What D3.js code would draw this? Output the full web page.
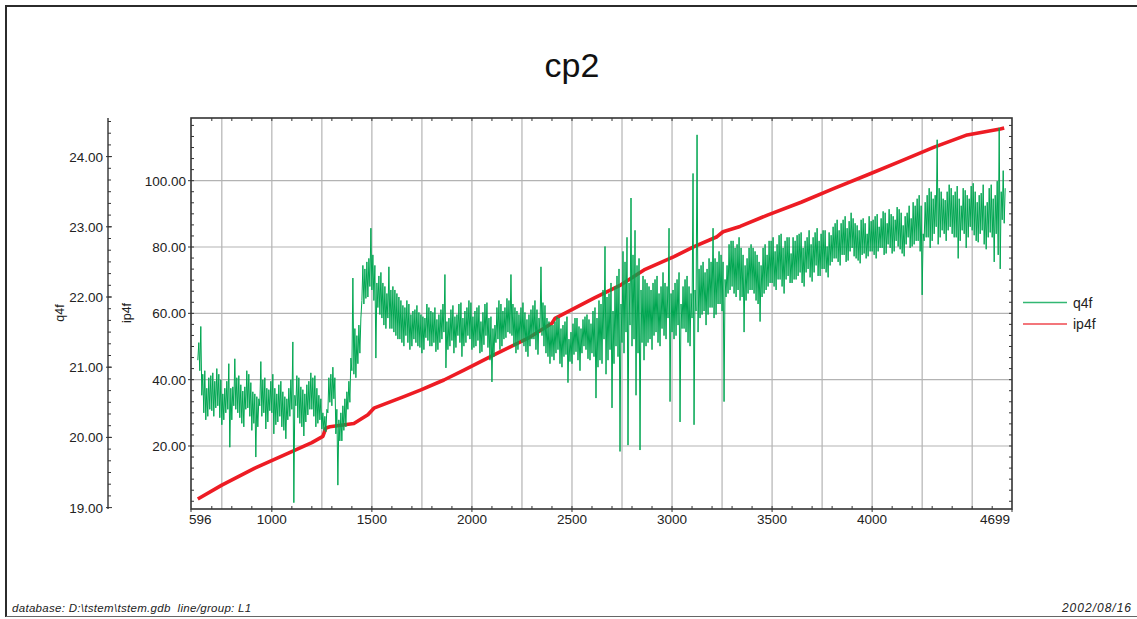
<!DOCTYPE html>
<html>
<head>
<meta charset="utf-8">
<script src="https://cdn.jsdelivr.net/npm/d3@7/dist/d3.min.js"></script>
<style>
  html, body { margin: 0; padding: 0; background: #fff; }
  svg { display: block; font-family: "Liberation Sans", Arial, sans-serif; }
  .footer { white-space: pre; }
</style>
</head>
<body>
<svg id="chart" width="1137" height="619"></svg>
<script>
// Profile cp2, line L1. q4f is stored decimated: two readings per 10-fid bin
// (q4fA, q4fB); each bin is drawn as its low then its high reading.
const q4fFidStart = 630;
const q4fFidStep = 10;
const q4fA = [
  // 630 - 790
  21.35, 21.58, 20.60, 20.95, 20.25, 20.85, 20.40, 20.92, 20.30, 20.98, 20.45, 20.82, 20.18, 20.70, 20.35, 21.05, 19.86,
  // 800 - 990
  20.72, 21.12, 20.40, 20.88, 20.28, 20.66, 20.15, 20.95, 20.42, 20.78, 20.10, 20.62, 19.72, 20.55, 21.08, 20.30, 20.85, 20.12, 20.68, 20.38,
  // 1000 - 1190
  20.90, 20.05, 20.62, 20.22, 20.80, 20.15, 20.58, 19.98, 20.70, 20.30, 21.36, 19.07, 20.45, 20.85, 20.20, 20.68, 20.02, 20.75, 20.32, 20.92,
  // 1200 - 1390
  20.40, 20.88, 20.15, 20.60, 20.25, 20.12, 20.30, 20.08, 20.85, 20.50, 21.00, 20.55, 20.05, 19.32, 20.35, 19.95, 20.55, 20.15, 20.80, 20.50,
  // 1400 - 1590
  22.27, 20.90, 21.45, 21.05, 21.70, 21.95, 22.40, 21.98, 22.55, 22.98, 22.10, 22.45, 21.13, 22.30, 21.75, 22.20, 21.60, 22.05, 22.43, 21.55,
  // 1600 - 1790
  22.15, 21.50, 22.05, 21.40, 21.95, 21.35, 21.85, 21.45, 21.90, 21.25, 21.80, 21.40, 21.88, 21.30, 21.75, 21.20, 21.70, 21.42, 21.85, 21.30,
  // 1800 - 1990
  21.78, 21.35, 21.68, 21.25, 21.82, 21.40, 22.32, 20.99, 21.70, 21.30, 21.88, 21.20, 21.75, 21.45, 21.92, 21.15, 21.80, 21.35, 21.95, 21.40,
  // 2000 - 2190
  21.72, 21.28, 21.85, 21.38, 21.65, 21.22, 21.90, 21.45, 21.70, 21.10, 20.79, 21.60, 21.35, 21.95, 21.25, 21.80, 21.40, 21.98, 21.50, 22.32,
  // 2200 - 2390
  21.45, 21.85, 21.20, 21.75, 21.38, 21.92, 21.30, 21.68, 21.15, 21.82, 21.40, 21.95, 21.25, 21.70, 22.43, 21.45, 21.88, 21.20, 21.65, 21.05,
  // 2400 - 2590
  21.60, 21.10, 21.72, 21.25, 21.55, 21.00, 21.65, 21.18, 20.78, 21.50, 21.05, 21.70, 21.22, 21.58, 20.95, 21.68, 21.30, 21.75, 21.12, 21.62,
  // 2600 - 2790
  21.20, 21.85, 20.56, 21.95, 21.10, 22.10, 22.72, 20.90, 22.05, 21.25, 20.42, 22.15, 21.30, 22.40, 19.80, 22.65, 21.20, 22.85, 19.89, 23.41,
  // 2800 - 2990
  21.30, 22.95, 20.60, 22.55, 19.82, 22.30, 21.10, 22.20, 21.35, 22.10, 21.25, 22.25, 21.50, 22.05, 21.30, 22.35, 21.45, 22.15, 22.98, 20.51,
  // 3000 - 3190
  22.10, 21.40, 22.25, 21.60, 20.22, 22.15, 21.55, 22.30, 21.35, 22.05, 23.76, 20.18, 24.31, 21.50, 22.45, 21.75, 22.35, 21.60, 22.55, 21.85,
  // 3200 - 3390
  22.98, 21.70, 22.50, 21.90, 22.60, 21.80, 20.51, 22.45, 22.05, 22.80, 22.15, 22.70, 22.00, 22.85, 21.95, 22.60, 21.50, 22.55, 22.05, 22.75,
  // 3400 - 3590
  22.10, 22.65, 21.95, 22.50, 21.65, 22.70, 22.05, 22.60, 22.15, 22.80, 22.20, 22.65, 22.10, 22.88, 22.25, 22.70, 22.05, 22.85, 22.30, 22.62,
  // 3600 - 3790
  22.20, 22.80, 22.25, 22.90, 22.35, 22.70, 22.15, 22.85, 22.40, 22.75, 22.22, 22.92, 22.45, 22.80, 22.30, 22.95, 22.40, 22.72, 22.28, 22.88,
  // 3800 - 3990
  22.50, 23.05, 22.55, 22.95, 22.45, 23.10, 22.60, 22.98, 22.52, 23.20, 22.70, 23.05, 22.55, 22.95, 22.48, 23.12, 22.62, 22.90, 22.58, 23.08,
  // 4000 - 4190
  22.65, 23.15, 22.55, 23.00, 22.70, 23.22, 22.60, 23.05, 22.75, 23.18, 22.62, 23.10, 22.80, 23.25, 22.68, 23.02, 22.58, 23.20, 22.85, 23.12,
  // 4200 - 4390
  22.72, 23.30, 22.80, 23.45, 22.65, 22.03, 23.35, 22.85, 23.55, 22.70, 23.40, 22.90, 24.24, 22.75, 23.50, 22.95, 23.38, 22.80, 23.60, 23.00,
  // 4400 - 4590
  23.45, 22.85, 23.58, 22.55, 23.30, 22.95, 23.52, 22.70, 23.40, 23.00, 23.62, 22.88, 23.35, 22.78, 23.48, 22.95, 23.30, 22.68, 23.55, 22.92,
  // 4600 - 4660
  23.40, 22.50, 23.65, 24.41, 22.40, 23.80, 23.05
];
const q4fB = [
  // 630 - 790
  21.10, 20.95, 20.90, 20.35, 20.70, 20.30, 20.88, 20.38, 20.80, 20.42, 20.90, 20.28, 20.62, 20.25, 20.80, 20.40, 20.70,
  // 800 - 990
  20.25, 20.45, 20.85, 20.35, 20.75, 20.20, 20.72, 20.40, 20.90, 20.30, 20.65, 20.20, 20.58, 20.15, 20.45, 20.82, 20.35, 20.70, 20.22, 20.80,
  // 1000 - 1190
  20.35, 20.70, 20.18, 20.75, 20.30, 20.65, 20.10, 20.55, 20.25, 20.82, 20.40, 20.60, 20.88, 20.28, 20.72, 20.15, 20.62, 20.22, 20.80, 20.40,
  // 1200 - 1390
  20.85, 20.30, 20.70, 20.20, 20.55, 20.35, 20.10, 20.40, 20.35, 20.90, 20.45, 20.85, 20.40, 20.25, 19.95, 20.45, 20.10, 20.65, 20.40, 21.13,
  // 1400 - 1590
  20.95, 21.55, 20.85, 21.60, 21.20, 22.45, 21.90, 22.50, 22.00, 22.15, 22.60, 21.95, 22.20, 21.85, 22.35, 21.70, 22.15, 21.55, 21.70, 22.10,
  // 1600 - 1790
  21.55, 22.10, 21.45, 22.00, 21.40, 21.88, 21.30, 21.95, 21.35, 21.75, 21.30, 21.82, 21.35, 21.78, 21.28, 21.72, 21.25, 21.90, 21.38, 21.80,
  // 1800 - 1990
  21.30, 21.85, 21.22, 21.75, 21.35, 21.90, 21.50, 21.65, 21.25, 21.82, 21.38, 21.72, 21.28, 21.90, 21.35, 21.70, 21.30, 21.85, 21.45, 21.92,
  // 2000 - 2190
  21.25, 21.80, 21.30, 21.88, 21.20, 21.78, 21.32, 21.92, 21.28, 21.72, 21.55, 21.15, 21.85, 21.40, 21.90, 21.30, 21.85, 21.42, 21.95, 21.48,
  // 2200 - 2390
  21.90, 21.30, 21.80, 21.25, 21.85, 21.35, 21.78, 21.22, 21.75, 21.30, 21.88, 21.40, 21.82, 21.18, 21.50, 21.92, 21.30, 21.70, 21.15, 21.60,
  // 2400 - 2590
  21.15, 21.65, 21.20, 21.70, 21.05, 21.60, 21.15, 21.72, 21.40, 21.08, 21.62, 21.18, 21.70, 21.10, 21.55, 21.20, 21.72, 21.25, 21.68, 21.10,
  // 2600 - 2790
  21.80, 21.15, 21.70, 21.00, 21.90, 21.05, 21.40, 22.00, 21.10, 22.20, 21.80, 21.05, 22.30, 21.15, 21.90, 21.35, 22.50, 21.50, 22.20, 21.60,
  // 2800 - 2990
  22.60, 21.40, 22.45, 21.20, 22.10, 21.35, 22.25, 21.30, 22.15, 21.40, 22.20, 21.45, 22.30, 21.35, 22.15, 21.55, 22.20, 21.40, 21.70, 22.05,
  // 3000 - 3190
  21.50, 22.20, 21.45, 22.35, 21.90, 21.55, 22.25, 21.50, 22.15, 21.30, 21.70, 22.10, 21.80, 22.40, 21.70, 22.50, 21.80, 22.40, 21.75, 22.50,
  // 3200 - 3390
  21.85, 22.55, 21.75, 22.65, 21.90, 22.50, 22.25, 22.00, 22.75, 22.10, 22.80, 22.05, 22.75, 22.10, 22.70, 22.00, 22.45, 21.95, 22.70, 22.10,
  // 3400 - 3590
  22.70, 22.05, 22.60, 21.90, 22.45, 22.00, 22.75, 22.10, 22.80, 22.20, 22.85, 22.15, 22.75, 22.25, 22.90, 22.15, 22.80, 22.25, 22.85, 22.20,
  // 3600 - 3790
  22.85, 22.25, 22.88, 22.30, 22.92, 22.20, 22.80, 22.35, 22.95, 22.28, 22.85, 22.35, 22.98, 22.30, 22.90, 22.40, 22.95, 22.35, 22.92, 22.45,
  // 3800 - 3990
  23.00, 22.55, 23.10, 22.50, 23.05, 22.60, 23.15, 22.50, 23.08, 22.65, 23.12, 22.58, 23.02, 22.52, 23.10, 22.60, 23.05, 22.55, 23.15, 22.65,
  // 4000 - 4190
  23.10, 22.60, 23.18, 22.65, 23.12, 22.70, 23.20, 22.62, 23.25, 22.70, 23.15, 22.65, 23.28, 22.72, 23.20, 22.62, 23.15, 22.75, 23.30, 22.70,
  // 4200 - 4390
  23.35, 22.75, 23.40, 22.80, 23.30, 22.90, 22.80, 23.45, 22.85, 23.50, 22.80, 23.45, 23.00, 23.55, 22.85, 23.40, 22.90, 23.50, 22.95, 23.55,
  // 4400 - 4590
  22.90, 23.50, 22.85, 23.40, 22.80, 23.55, 22.90, 23.45, 22.85, 23.58, 22.95, 23.50, 22.80, 23.45, 22.90, 23.60, 22.75, 23.35, 22.85, 23.60,
  // 4600 - 4660
  22.85, 23.45, 22.90, 22.60, 23.50, 23.10, 23.55
];

const ip4fFid = [630, 750, 915, 1080, 1200, 1255, 1270, 1290, 1410, 1480, 1510, 1660, 1745, 1860, 1960,
  2110, 2280, 2400, 2415, 2610, 2745, 2860, 3010, 3110, 3225, 3255, 3340, 3480, 3645, 3810,
  3975, 4140, 4310, 4475, 4640, 4660];
const ip4f = [4.0, 8.2, 13.3, 17.8, 21.0, 22.9, 25.4, 25.8, 26.8, 29.4, 31.4, 34.9, 36.9, 39.9, 42.9,
  47.5, 52.5, 57.0, 58.5, 64.6, 68.6, 73.1, 77.1, 80.1, 83.1, 84.6, 86.2, 89.7, 93.5, 97.7,
  101.7, 105.8, 110.1, 113.8, 115.6, 115.9];

const fidDomain = [596, 4699];
const fidLabels = [596, 1000, 1500, 2000, 2500, 3000, 3500, 4000, 4699];
const q4fDomain = [18.98, 24.55];
const q4fLabels = [19, 20, 21, 22, 23, 24];
const ip4fDomain = [1.0, 118.9];
const ip4fLabels = [20, 40, 60, 80, 100];

const seriesNames = ["q4f", "ip4f"];
const seriesColors = ["#00a651", "#ed1c24"];

const svg = d3.select("#chart");
const W = 1137, H = 619;
const plot = { left: 191, right: 1012, top: 118, bottom: 509 };

svg.append("rect").attr("width", W).attr("height", H).attr("fill", "#fff");

// page frame
svg.append("path").attr("d", `M6,${H - 2} V6 H${W}`)
  .attr("fill", "none").attr("stroke", "#2b2b2b").attr("stroke-width", 2);
svg.append("line").attr("x1", 6).attr("x2", W).attr("y1", 616.5).attr("y2", 616.5)
  .attr("stroke", "#666").attr("stroke-width", 1);

const x = d3.scaleLinear().domain(fidDomain).range([plot.left, plot.right]);
const yQ = d3.scaleLinear().domain(q4fDomain).range([plot.bottom, plot.top]);
const yP = d3.scaleLinear().domain(ip4fDomain).range([plot.bottom, plot.top]);

// title
svg.append("text").attr("x", 572).attr("y", 77).attr("text-anchor", "middle")
  .attr("font-size", 34).attr("fill", "#111").text("cp2");

// grid
const gridX = d3.range(750, 4600, 250);
const grid = svg.append("g").attr("stroke", "#b3b3b3").attr("stroke-width", 1.2);
grid.selectAll("line.gx").data(gridX).join("line")
  .attr("x1", d => x(d)).attr("x2", d => x(d))
  .attr("y1", plot.top).attr("y2", plot.bottom);
grid.selectAll("line.gy").data(ip4fLabels).join("line")
  .attr("x1", plot.left).attr("x2", plot.right)
  .attr("y1", d => yP(d)).attr("y2", d => yP(d));

// series
svg.append("clipPath").attr("id", "plotclip").append("rect")
  .attr("x", plot.left).attr("y", plot.top)
  .attr("width", plot.right - plot.left).attr("height", plot.bottom - plot.top);

const gData = svg.append("g").attr("clip-path", "url(#plotclip)");

const ipLine = d3.line().x(d => x(d[0])).y(d => yP(d[1]));
gData.append("path")
  .datum(ip4fFid.map((f, i) => [f, ip4f[i]]))
  .attr("fill", "none").attr("stroke", seriesColors[1]).attr("stroke-width", 3.6)
  .attr("stroke-linejoin", "round").attr("d", ipLine);

// each bin: low reading at its fid, high reading half a step later
const q4fPts = [];
q4fA.forEach((a, i) => {
  const b = q4fB[i];
  const f = q4fFidStart + i * q4fFidStep;
  q4fPts.push([f, Math.min(a, b)]);
  q4fPts.push([f + q4fFidStep / 2, Math.max(a, b)]);
});
const qLine = d3.line().x(d => x(d[0])).y(d => yQ(d[1]));
gData.append("path").datum(q4fPts)
  .attr("fill", "none").attr("stroke", seriesColors[0]).attr("stroke-width", 1)
  .attr("d", qLine);

// plot frame
svg.append("rect").attr("x", plot.left).attr("y", plot.top)
  .attr("width", plot.right - plot.left).attr("height", plot.bottom - plot.top)
  .attr("fill", "none").attr("stroke", "#333").attr("stroke-width", 1.6);

const tickColor = "#333";
// bottom axis: minor ticks inward, labels below
const minorX = d3.range(700, 4700, 100);
const gTicks = svg.append("g").attr("stroke", tickColor).attr("stroke-width", 1);
gTicks.selectAll("line.bx").data(minorX).join("line")
  .attr("x1", d => x(d)).attr("x2", d => x(d))
  .attr("y1", plot.bottom).attr("y2", plot.bottom - 3);
gTicks.selectAll("line.tx").data(minorX).join("line")
  .attr("x1", d => x(d)).attr("x2", d => x(d))
  .attr("y1", plot.top).attr("y2", plot.top + 3);
gTicks.selectAll("line.bm").data(fidLabels).join("line")
  .attr("x1", d => x(d)).attr("x2", d => x(d))
  .attr("y1", plot.bottom).attr("y2", plot.bottom + 3);

const labelFont = 13.5;
svg.append("g").selectAll("text").data(fidLabels).join("text")
  .attr("x", (d, i) => i === 0 ? x(d) - 2 : (i === fidLabels.length - 1 ? x(d) - 2 : x(d)))
  .attr("y", 524)
  .attr("text-anchor", (d, i) => i === 0 ? "start" : (i === fidLabels.length - 1 ? "end" : "middle"))
  .attr("font-size", labelFont).attr("fill", "#222")
  .text(d => d);

// ip4f axis on the plot's left edge, mirrored ticks on the right edge
const ipMinor = d3.range(20 / 6, 118.9, 20 / 6);
gTicks.selectAll("line.pl").data(ipMinor).join("line")
  .attr("x1", plot.left).attr("x2", plot.left + 3)
  .attr("y1", d => yP(d)).attr("y2", d => yP(d));
gTicks.selectAll("line.pr").data(ipMinor).join("line")
  .attr("x1", plot.right).attr("x2", plot.right - 3)
  .attr("y1", d => yP(d)).attr("y2", d => yP(d));
gTicks.selectAll("line.pm").data(ip4fLabels).join("line")
  .attr("x1", plot.left - 3).attr("x2", plot.left)
  .attr("y1", d => yP(d)).attr("y2", d => yP(d));
svg.append("g").selectAll("text").data(ip4fLabels).join("text")
  .attr("x", 186).attr("y", d => yP(d) + 5)
  .attr("text-anchor", "end").attr("font-size", labelFont).attr("fill", "#222")
  .text(d => d.toFixed(2));

// q4f axis, offset to the left
const qAxisX = 108;
svg.append("line").attr("x1", qAxisX).attr("x2", qAxisX)
  .attr("y1", plot.top).attr("y2", plot.bottom)
  .attr("stroke", tickColor).attr("stroke-width", 1.4);
const qMinor = d3.range(19 + 1 / 6, 24.55, 1 / 6);
gTicks.selectAll("line.qm").data(qMinor).join("line")
  .attr("x1", qAxisX).attr("x2", qAxisX + 3)
  .attr("y1", d => yQ(d)).attr("y2", d => yQ(d));
gTicks.selectAll("line.qM").data(q4fLabels).join("line")
  .attr("x1", qAxisX - 2).attr("x2", qAxisX + 4)
  .attr("y1", d => yQ(d)).attr("y2", d => yQ(d));
svg.append("g").selectAll("text").data(q4fLabels).join("text")
  .attr("x", 103).attr("y", d => yQ(d) + 5)
  .attr("text-anchor", "end").attr("font-size", labelFont).attr("fill", "#222")
  .text(d => d.toFixed(2));

// axis titles
[["q4f", 64], ["ip4f", 131]].forEach(([t, cx]) => {
  svg.append("text").attr("transform", `translate(${cx},313) rotate(-90)`)
    .attr("text-anchor", "middle").attr("font-size", 12.5).attr("fill", "#222").text(t);
});

// legend
const legend = svg.append("g");
seriesNames.forEach((name, i) => {
  const ly = 302.5 + i * 21.5;
  legend.append("line").attr("x1", 1023).attr("x2", 1067).attr("y1", ly).attr("y2", ly)
    .attr("stroke", seriesColors[i]).attr("stroke-width", 1.6).attr("opacity", 0.8);
  legend.append("text").attr("x", 1073).attr("y", ly + 5)
    .attr("font-size", 14).attr("fill", "#222").text(name);
});

// footer
svg.append("text").attr("class", "footer").attr("x", 12).attr("y", 612)
  .attr("font-size", 11.5).attr("letter-spacing", 0.3).attr("font-style", "italic").attr("fill", "#222")
  .text("database: D:\\tstem\\tstem.gdb  line/group: L1");
svg.append("text").attr("class", "footer").attr("x", 1132).attr("y", 612).attr("text-anchor", "end")
  .attr("font-size", 12).attr("letter-spacing", 1).attr("font-style", "italic").attr("fill", "#222")
  .text("2002/08/16");
</script>
</body>
</html>
